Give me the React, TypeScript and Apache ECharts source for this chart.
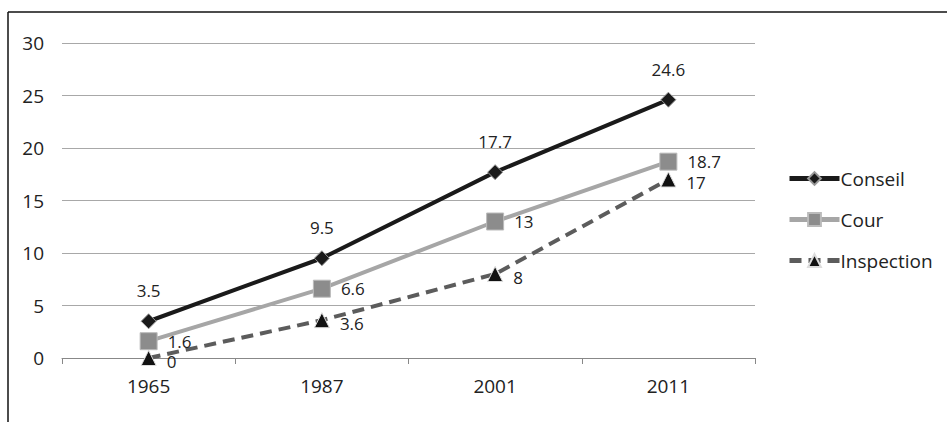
import React, { useEffect, useRef } from 'react';
import * as echarts from 'echarts';

const years = ['1965', '1987', '2001', '2011'];
const conseil = [3.5, 9.5, 17.7, 24.6];
const cour = [1.6, 6.6, 13, 18.7];
const inspection = [0, 3.6, 8, 17];

const font = 'Open Sans';

export default function App() {
  const ref = useRef<HTMLDivElement>(null);

  useEffect(() => {
    const chart = echarts.init(ref.current, null, { renderer: 'svg' });
    const label = (position: string, offset: number[] = [0, 0]) => ({
      show: true,
      position,
      offset,
      distance: position === 'top' ? 14 : 10,
      color: '#222',
      fontSize: 17,
      fontFamily: font,
    });
    chart.setOption({
      animation: false,
      textStyle: { fontFamily: font },
      grid: { left: 62, right: 192, top: 43, bottom: 64 },
      legend: {
        orient: 'vertical',
        left: 782,
        top: 164,
        itemGap: 22,
        itemWidth: 50,
        itemHeight: 16,
        lineStyle: { width: 5 },
        textStyle: { fontSize: 19, color: '#222', fontFamily: font, padding: [0, 0, 0, -4] },
        data: ['Conseil', 'Cour', 'Inspection'],
      },
      xAxis: {
        type: 'category',
        data: years,
        boundaryGap: true,
        axisLine: { lineStyle: { color: '#888' } },
        axisTick: { show: true, length: 6, lineStyle: { color: '#888' } },
        axisLabel: { fontSize: 19, color: '#222', margin: 18 },
      },
      yAxis: {
        type: 'value',
        min: 0,
        max: 30,
        interval: 5,
        axisLine: { show: false },
        axisTick: { show: false },
        axisLabel: { fontSize: 19, color: '#222', margin: 18 },
        splitLine: { lineStyle: { color: '#a8a8a8' } },
      },
      series: [
        {
          name: 'Conseil',
          type: 'line',
          data: conseil,
          symbol: 'diamond',
          symbolSize: 15,
          lineStyle: { color: '#1a1a1a', width: 4 },
          itemStyle: { color: '#1a1a1a', borderColor: '#999', borderWidth: 1 },
          label: label('top'),
          z: 3,
        },
        {
          name: 'Cour',
          type: 'line',
          data: cour,
          symbol: 'rect',
          symbolSize: 17,
          lineStyle: { color: '#a6a6a6', width: 4 },
          itemStyle: { color: '#8c8c8c', borderColor: '#bbb', borderWidth: 1 },
          label: label('right'),
          z: 2,
        },
        {
          name: 'Inspection',
          type: 'line',
          data: inspection,
          symbol: 'triangle',
          symbolSize: 15,
          lineStyle: { color: '#5c5c5c', width: 4, type: [12, 7] },
          itemStyle: { color: '#111', borderColor: '#ddd', borderWidth: 1 },
          label: label('right', [0, 3]),
          z: 1,
        },
      ],
      graphic: [
        { type: 'line', shape: { x1: 8, y1: 12, x2: 947, y2: 12 }, style: { stroke: '#111', lineWidth: 1.5 } },
        { type: 'line', shape: { x1: 8, y1: 12, x2: 8, y2: 422 }, style: { stroke: '#111', lineWidth: 1.5 } },
      ],
    });
    return () => chart.dispose();
  }, []);

  return <div ref={ref} style={{ position: 'absolute', left: 0, top: 0, width: 947, height: 422 }} />;
}
